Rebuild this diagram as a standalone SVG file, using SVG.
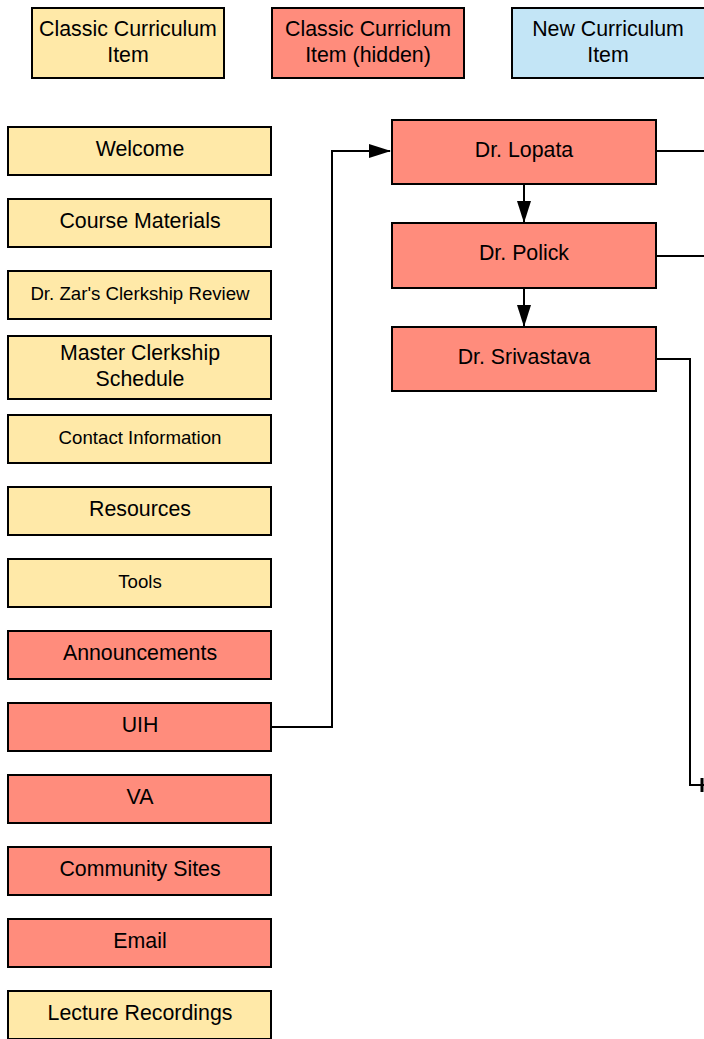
<svg xmlns="http://www.w3.org/2000/svg" width="704" height="1039" viewBox="0 0 704 1039">
<style>
rect{stroke:#000;stroke-width:2}
.y{fill:#FFE9A8}
.r{fill:#FF8C7C}
.b{fill:#C3E5F6}
text{font-family:"Liberation Sans",Arial,sans-serif;font-size:21.33px;fill:#000;text-anchor:middle}
.s{font-size:18.67px}
.c{fill:none;stroke:#000;stroke-width:2}
</style>
<defs>
<marker id="a" markerWidth="22" markerHeight="14" refX="21" refY="7" orient="auto" markerUnits="userSpaceOnUse">
<path d="M0,0 L22,7 L0,14 Z" fill="#000"/>
</marker>
</defs>
<rect width="704" height="1039" fill="#fff" style="stroke:none"/>
<g id="legend-classic"><rect class="y" x="32" y="8" width="192" height="70"/><text x="128" y="36">Classic Curriculum</text><text x="128" y="62">Item</text></g>
<g id="legend-hidden"><rect class="r" x="272" y="8" width="192" height="70"/><text x="368" y="36">Classic Curriclum</text><text x="368" y="62">Item (hidden)</text></g>
<g id="legend-new"><rect class="b" x="512" y="8" width="193" height="70"/><text x="608" y="36">New Curriculum</text><text x="608" y="62">Item</text></g>

<g id="welcome"><rect class="y" x="8" y="127" width="263" height="48"/><text x="140" y="156">Welcome</text></g>
<g id="course-materials"><rect class="y" x="8" y="199" width="263" height="48"/><text x="140" y="228">Course Materials</text></g>
<g id="zar"><rect class="y" x="8" y="271" width="263" height="48"/><text class="s" x="140" y="300">Dr. Zar's Clerkship Review</text></g>
<g id="master"><rect class="y" x="8" y="336" width="263" height="63"/><text x="140" y="360">Master Clerkship</text><text x="140" y="386">Schedule</text></g>
<g id="contact"><rect class="y" x="8" y="415" width="263" height="48"/><text class="s" x="140" y="444">Contact Information</text></g>
<g id="resources"><rect class="y" x="8" y="487" width="263" height="48"/><text x="140" y="516">Resources</text></g>
<g id="tools"><rect class="y" x="8" y="559" width="263" height="48"/><text class="s" x="140" y="588">Tools</text></g>
<g id="announcements"><rect class="r" x="8" y="631" width="263" height="48"/><text x="140" y="660">Announcements</text></g>
<g id="uih"><rect class="r" x="8" y="703" width="263" height="48"/><text x="140" y="732">UIH</text></g>
<g id="va"><rect class="r" x="8" y="775" width="263" height="48"/><text x="140" y="804">VA</text></g>
<g id="community"><rect class="r" x="8" y="847" width="263" height="48"/><text x="140" y="876">Community Sites</text></g>
<g id="email"><rect class="r" x="8" y="919" width="263" height="48"/><text x="140" y="948">Email</text></g>
<g id="lecture"><rect class="y" x="8" y="991" width="263" height="48"/><text x="140" y="1020">Lecture Recordings</text></g>

<g id="lopata"><rect class="r" x="392" y="120" width="264" height="64"/><text x="524" y="157">Dr. Lopata</text></g>
<g id="polick"><rect class="r" x="392" y="223" width="264" height="65"/><text x="524" y="260">Dr. Polick</text></g>
<g id="srivastava"><rect class="r" x="392" y="327" width="264" height="64"/><text x="524" y="364">Dr. Srivastava</text></g>

<g id="connectors">
<path class="c" d="M272,727 H332 V151 H390" marker-end="url(#a)"/>
<path class="c" d="M524,184 V222" marker-end="url(#a)"/>
<path class="c" d="M524,288 V326" marker-end="url(#a)"/>
<path class="c" d="M656,151 H704"/>
<path class="c" d="M656,256 H704"/>
<path class="c" d="M656,359 H690 V785 H704"/>
<path d="M702,778 V792" stroke="#000" stroke-width="3"/>
</g>
</svg>
